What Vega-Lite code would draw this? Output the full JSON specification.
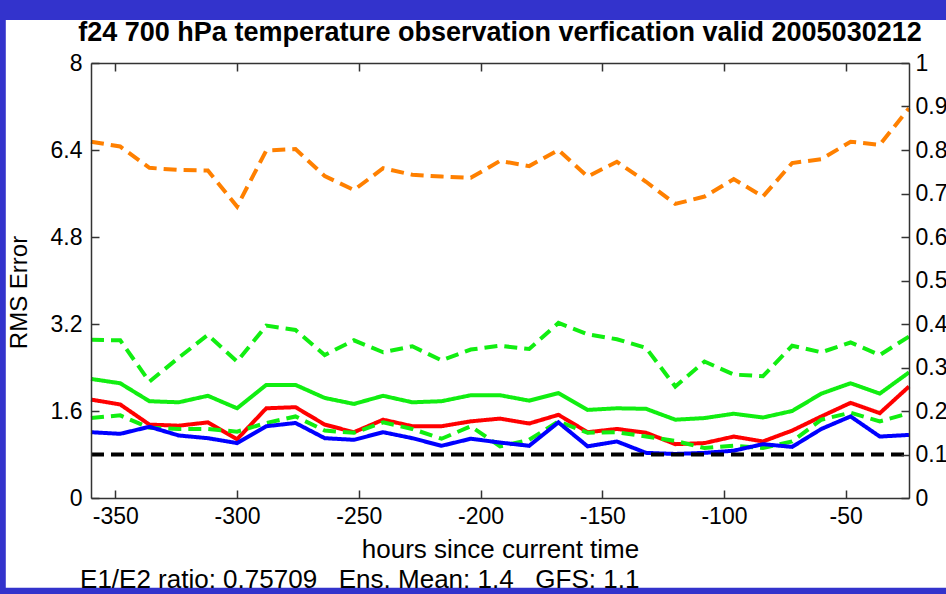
{
  "$schema": "https://vega.github.io/schema/vega-lite/v6.json",
  "width": 818,
  "height": 435,
  "autosize": {"type": "none"},
  "padding": {"left": 91, "top": 63, "right": 37, "bottom": 96},
  "background": "#3333cc",
  "title": {
    "text": "f24 700 hPa temperature observation verfication valid 2005030212",
    "font": "Liberation Sans",
    "fontSize": 27,
    "fontWeight": "bold",
    "color": "black",
    "anchor": "middle",
    "offset": -27
  },
  "config": {
    "view": {"stroke": null},
    "axis": {
      "labelFont": "Liberation Sans",
      "labelFontSize": 23,
      "labelColor": "black",
      "titleFont": "Liberation Sans",
      "titleFontSize": 26,
      "titleFontWeight": "normal",
      "titleColor": "black",
      "domainColor": "#333333",
      "domainWidth": 1.5,
      "tickColor": "#333333",
      "tickWidth": 1.5,
      "tickSize": -8,
      "grid": false,
      "zindex": 1
    }
  },
  "datasets": {
    "bg": [{"x1": -395, "x2": 0, "y1": -1.65, "y2": 8.79}],
    "foot": [{"h": -364.5, "v": -1.5, "label": "E1/E2 ratio: 0.75709\u00a0\u00a0\u00a0Ens. Mean: 1.4\u00a0\u00a0\u00a0GFS: 1.1"}],
    "left": [
      {"h": -360, "series": "gdu", "style": "dashed", "v": 2.91},
      {"h": -348, "series": "gdu", "style": "dashed", "v": 2.90},
      {"h": -336, "series": "gdu", "style": "dashed", "v": 2.14},
      {"h": -324, "series": "gdu", "style": "dashed", "v": 2.58},
      {"h": -312, "series": "gdu", "style": "dashed", "v": 3.00},
      {"h": -300, "series": "gdu", "style": "dashed", "v": 2.51},
      {"h": -288, "series": "gdu", "style": "dashed", "v": 3.17},
      {"h": -276, "series": "gdu", "style": "dashed", "v": 3.09},
      {"h": -264, "series": "gdu", "style": "dashed", "v": 2.63},
      {"h": -252, "series": "gdu", "style": "dashed", "v": 2.90},
      {"h": -240, "series": "gdu", "style": "dashed", "v": 2.68},
      {"h": -228, "series": "gdu", "style": "dashed", "v": 2.79},
      {"h": -216, "series": "gdu", "style": "dashed", "v": 2.53},
      {"h": -204, "series": "gdu", "style": "dashed", "v": 2.73},
      {"h": -192, "series": "gdu", "style": "dashed", "v": 2.80},
      {"h": -180, "series": "gdu", "style": "dashed", "v": 2.74},
      {"h": -168, "series": "gdu", "style": "dashed", "v": 3.22},
      {"h": -156, "series": "gdu", "style": "dashed", "v": 3.01},
      {"h": -144, "series": "gdu", "style": "dashed", "v": 2.92},
      {"h": -132, "series": "gdu", "style": "dashed", "v": 2.76},
      {"h": -120, "series": "gdu", "style": "dashed", "v": 2.05},
      {"h": -108, "series": "gdu", "style": "dashed", "v": 2.51},
      {"h": -96, "series": "gdu", "style": "dashed", "v": 2.27},
      {"h": -84, "series": "gdu", "style": "dashed", "v": 2.24},
      {"h": -72, "series": "gdu", "style": "dashed", "v": 2.80},
      {"h": -60, "series": "gdu", "style": "dashed", "v": 2.68},
      {"h": -48, "series": "gdu", "style": "dashed", "v": 2.86},
      {"h": -36, "series": "gdu", "style": "dashed", "v": 2.63},
      {"h": -24, "series": "gdu", "style": "dashed", "v": 2.97},

      {"h": -360, "series": "gs", "style": "solid", "v": 2.19},
      {"h": -348, "series": "gs", "style": "solid", "v": 2.11},
      {"h": -336, "series": "gs", "style": "solid", "v": 1.78},
      {"h": -324, "series": "gs", "style": "solid", "v": 1.76},
      {"h": -312, "series": "gs", "style": "solid", "v": 1.88},
      {"h": -300, "series": "gs", "style": "solid", "v": 1.65},
      {"h": -288, "series": "gs", "style": "solid", "v": 2.08},
      {"h": -276, "series": "gs", "style": "solid", "v": 2.08},
      {"h": -264, "series": "gs", "style": "solid", "v": 1.84},
      {"h": -252, "series": "gs", "style": "solid", "v": 1.73},
      {"h": -240, "series": "gs", "style": "solid", "v": 1.88},
      {"h": -228, "series": "gs", "style": "solid", "v": 1.76},
      {"h": -216, "series": "gs", "style": "solid", "v": 1.78},
      {"h": -204, "series": "gs", "style": "solid", "v": 1.89},
      {"h": -192, "series": "gs", "style": "solid", "v": 1.89},
      {"h": -180, "series": "gs", "style": "solid", "v": 1.79},
      {"h": -168, "series": "gs", "style": "solid", "v": 1.93},
      {"h": -156, "series": "gs", "style": "solid", "v": 1.62},
      {"h": -144, "series": "gs", "style": "solid", "v": 1.65},
      {"h": -132, "series": "gs", "style": "solid", "v": 1.64},
      {"h": -120, "series": "gs", "style": "solid", "v": 1.44},
      {"h": -108, "series": "gs", "style": "solid", "v": 1.47},
      {"h": -96, "series": "gs", "style": "solid", "v": 1.55},
      {"h": -84, "series": "gs", "style": "solid", "v": 1.48},
      {"h": -72, "series": "gs", "style": "solid", "v": 1.60},
      {"h": -60, "series": "gs", "style": "solid", "v": 1.92},
      {"h": -48, "series": "gs", "style": "solid", "v": 2.11},
      {"h": -36, "series": "gs", "style": "solid", "v": 1.92},
      {"h": -24, "series": "gs", "style": "solid", "v": 2.31},

      {"h": -360, "series": "red", "style": "solid", "v": 1.81},
      {"h": -348, "series": "red", "style": "solid", "v": 1.72},
      {"h": -336, "series": "red", "style": "solid", "v": 1.35},
      {"h": -324, "series": "red", "style": "solid", "v": 1.33},
      {"h": -312, "series": "red", "style": "solid", "v": 1.39},
      {"h": -300, "series": "red", "style": "solid", "v": 1.08},
      {"h": -288, "series": "red", "style": "solid", "v": 1.65},
      {"h": -276, "series": "red", "style": "solid", "v": 1.67},
      {"h": -264, "series": "red", "style": "solid", "v": 1.35},
      {"h": -252, "series": "red", "style": "solid", "v": 1.21},
      {"h": -240, "series": "red", "style": "solid", "v": 1.44},
      {"h": -228, "series": "red", "style": "solid", "v": 1.32},
      {"h": -216, "series": "red", "style": "solid", "v": 1.32},
      {"h": -204, "series": "red", "style": "solid", "v": 1.41},
      {"h": -192, "series": "red", "style": "solid", "v": 1.46},
      {"h": -180, "series": "red", "style": "solid", "v": 1.37},
      {"h": -168, "series": "red", "style": "solid", "v": 1.53},
      {"h": -156, "series": "red", "style": "solid", "v": 1.21},
      {"h": -144, "series": "red", "style": "solid", "v": 1.27},
      {"h": -132, "series": "red", "style": "solid", "v": 1.20},
      {"h": -120, "series": "red", "style": "solid", "v": 0.99},
      {"h": -108, "series": "red", "style": "solid", "v": 1.01},
      {"h": -96, "series": "red", "style": "solid", "v": 1.13},
      {"h": -84, "series": "red", "style": "solid", "v": 1.04},
      {"h": -72, "series": "red", "style": "solid", "v": 1.24},
      {"h": -60, "series": "red", "style": "solid", "v": 1.50},
      {"h": -48, "series": "red", "style": "solid", "v": 1.75},
      {"h": -36, "series": "red", "style": "solid", "v": 1.56},
      {"h": -24, "series": "red", "style": "solid", "v": 2.05},

      {"h": -360, "series": "gdl", "style": "dashed", "v": 1.47},
      {"h": -348, "series": "gdl", "style": "dashed", "v": 1.52},
      {"h": -336, "series": "gdl", "style": "dashed", "v": 1.29},
      {"h": -324, "series": "gdl", "style": "dashed", "v": 1.27},
      {"h": -312, "series": "gdl", "style": "dashed", "v": 1.27},
      {"h": -300, "series": "gdl", "style": "dashed", "v": 1.22},
      {"h": -288, "series": "gdl", "style": "dashed", "v": 1.38},
      {"h": -276, "series": "gdl", "style": "dashed", "v": 1.50},
      {"h": -264, "series": "gdl", "style": "dashed", "v": 1.24},
      {"h": -252, "series": "gdl", "style": "dashed", "v": 1.20},
      {"h": -240, "series": "gdl", "style": "dashed", "v": 1.39},
      {"h": -228, "series": "gdl", "style": "dashed", "v": 1.27},
      {"h": -216, "series": "gdl", "style": "dashed", "v": 1.09},
      {"h": -204, "series": "gdl", "style": "dashed", "v": 1.32},
      {"h": -192, "series": "gdl", "style": "dashed", "v": 0.95},
      {"h": -180, "series": "gdl", "style": "dashed", "v": 1.07},
      {"h": -168, "series": "gdl", "style": "dashed", "v": 1.41},
      {"h": -156, "series": "gdl", "style": "dashed", "v": 1.20},
      {"h": -144, "series": "gdl", "style": "dashed", "v": 1.21},
      {"h": -132, "series": "gdl", "style": "dashed", "v": 1.13},
      {"h": -120, "series": "gdl", "style": "dashed", "v": 1.05},
      {"h": -108, "series": "gdl", "style": "dashed", "v": 0.92},
      {"h": -96, "series": "gdl", "style": "dashed", "v": 0.96},
      {"h": -84, "series": "gdl", "style": "dashed", "v": 0.92},
      {"h": -72, "series": "gdl", "style": "dashed", "v": 1.04},
      {"h": -60, "series": "gdl", "style": "dashed", "v": 1.44},
      {"h": -48, "series": "gdl", "style": "dashed", "v": 1.57},
      {"h": -36, "series": "gdl", "style": "dashed", "v": 1.41},
      {"h": -24, "series": "gdl", "style": "dashed", "v": 1.56},

      {"h": -360, "series": "blue", "style": "solid", "v": 1.21},
      {"h": -348, "series": "blue", "style": "solid", "v": 1.18},
      {"h": -336, "series": "blue", "style": "solid", "v": 1.31},
      {"h": -324, "series": "blue", "style": "solid", "v": 1.15},
      {"h": -312, "series": "blue", "style": "solid", "v": 1.10},
      {"h": -300, "series": "blue", "style": "solid", "v": 1.01},
      {"h": -288, "series": "blue", "style": "solid", "v": 1.32},
      {"h": -276, "series": "blue", "style": "solid", "v": 1.38},
      {"h": -264, "series": "blue", "style": "solid", "v": 1.10},
      {"h": -252, "series": "blue", "style": "solid", "v": 1.07},
      {"h": -240, "series": "blue", "style": "solid", "v": 1.21},
      {"h": -228, "series": "blue", "style": "solid", "v": 1.10},
      {"h": -216, "series": "blue", "style": "solid", "v": 0.96},
      {"h": -204, "series": "blue", "style": "solid", "v": 1.09},
      {"h": -192, "series": "blue", "style": "solid", "v": 1.02},
      {"h": -180, "series": "blue", "style": "solid", "v": 0.96},
      {"h": -168, "series": "blue", "style": "solid", "v": 1.39},
      {"h": -156, "series": "blue", "style": "solid", "v": 0.95},
      {"h": -144, "series": "blue", "style": "solid", "v": 1.04},
      {"h": -132, "series": "blue", "style": "solid", "v": 0.83},
      {"h": -120, "series": "blue", "style": "solid", "v": 0.81},
      {"h": -108, "series": "blue", "style": "solid", "v": 0.83},
      {"h": -96, "series": "blue", "style": "solid", "v": 0.87},
      {"h": -84, "series": "blue", "style": "solid", "v": 0.99},
      {"h": -72, "series": "blue", "style": "solid", "v": 0.94},
      {"h": -60, "series": "blue", "style": "solid", "v": 1.27},
      {"h": -48, "series": "blue", "style": "solid", "v": 1.50},
      {"h": -36, "series": "blue", "style": "solid", "v": 1.13},
      {"h": -24, "series": "blue", "style": "solid", "v": 1.16}
    ],
    "right": [
      {"h": -360, "series": "black", "style": "dashed", "v": 0.1},
      {"h": -24, "series": "black", "style": "dashed", "v": 0.1},

      {"h": -360, "series": "orange", "style": "dashed", "v": 0.819},
      {"h": -348, "series": "orange", "style": "dashed", "v": 0.808},
      {"h": -336, "series": "orange", "style": "dashed", "v": 0.759},
      {"h": -324, "series": "orange", "style": "dashed", "v": 0.754},
      {"h": -312, "series": "orange", "style": "dashed", "v": 0.753},
      {"h": -300, "series": "orange", "style": "dashed", "v": 0.670},
      {"h": -288, "series": "orange", "style": "dashed", "v": 0.799},
      {"h": -276, "series": "orange", "style": "dashed", "v": 0.802},
      {"h": -264, "series": "orange", "style": "dashed", "v": 0.740},
      {"h": -252, "series": "orange", "style": "dashed", "v": 0.708},
      {"h": -240, "series": "orange", "style": "dashed", "v": 0.758},
      {"h": -228, "series": "orange", "style": "dashed", "v": 0.743},
      {"h": -216, "series": "orange", "style": "dashed", "v": 0.739},
      {"h": -204, "series": "orange", "style": "dashed", "v": 0.736},
      {"h": -192, "series": "orange", "style": "dashed", "v": 0.775},
      {"h": -180, "series": "orange", "style": "dashed", "v": 0.763},
      {"h": -168, "series": "orange", "style": "dashed", "v": 0.800},
      {"h": -156, "series": "orange", "style": "dashed", "v": 0.739},
      {"h": -144, "series": "orange", "style": "dashed", "v": 0.773},
      {"h": -132, "series": "orange", "style": "dashed", "v": 0.727},
      {"h": -120, "series": "orange", "style": "dashed", "v": 0.676},
      {"h": -108, "series": "orange", "style": "dashed", "v": 0.693},
      {"h": -96, "series": "orange", "style": "dashed", "v": 0.733},
      {"h": -84, "series": "orange", "style": "dashed", "v": 0.693},
      {"h": -72, "series": "orange", "style": "dashed", "v": 0.770},
      {"h": -60, "series": "orange", "style": "dashed", "v": 0.779},
      {"h": -48, "series": "orange", "style": "dashed", "v": 0.819},
      {"h": -36, "series": "orange", "style": "dashed", "v": 0.812},
      {"h": -24, "series": "orange", "style": "dashed", "v": 0.896}
    ]
  },
  "layer": [
    {
      "data": {"name": "bg"},
      "mark": {"type": "rect", "color": "white"},
      "encoding": {
        "x": {"field": "x1", "type": "quantitative", "scale": {"domain": [-360, -24], "nice": false, "zero": false},
              "axis": {"orient": "top", "labels": false, "title": null, "zindex": 1, "values": [-350, -300, -250, -200, -150, -100, -50]}},
        "x2": {"field": "x2"},
        "y": {"field": "y1", "type": "quantitative", "scale": {"domain": [0, 8], "nice": false, "zero": false}, "axis": null},
        "y2": {"field": "y2"}
      }
    },
    {
      "data": {"name": "foot"},
      "mark": {"type": "text", "align": "left", "baseline": "middle", "font": "Liberation Sans", "fontSize": 26, "color": "black"},
      "encoding": {
        "x": {"field": "h", "type": "quantitative", "scale": {"domain": [-360, -24], "nice": false, "zero": false}, "axis": null},
        "y": {"field": "v", "type": "quantitative", "scale": {"domain": [0, 8], "nice": false, "zero": false}, "axis": null},
        "text": {"field": "label"}
      }
    },
    {
      "data": {"name": "left"},
      "mark": {"type": "line", "strokeWidth": 4},
      "encoding": {
        "x": {"field": "h", "type": "quantitative", "scale": {"domain": [-360, -24], "nice": false, "zero": false},
              "axis": {"orient": "bottom", "title": "hours since current time", "zindex": 1, "values": [-350, -300, -250, -200, -150, -100, -50],
                       "labelExpr": "toString(datum.value)", "labelPadding": 15, "titlePadding": 8}},
        "y": {"field": "v", "type": "quantitative", "scale": {"domain": [0, 8], "nice": false, "zero": false},
              "axis": {"orient": "left", "title": "RMS Error", "zindex": 1, "titleFontSize": 24, "titleY": 229, "values": [0, 1.6, 3.2, 4.8, 6.4, 8],
                       "labelExpr": "toString(datum.value)", "labelPadding": 17, "titlePadding": 19}},
        "color": {"field": "series", "type": "nominal", "legend": null,
                  "scale": {"domain": ["orange", "black", "gdu", "gs", "red", "gdl", "blue"],
                            "range": ["#ff8000", "#000000", "#11ee11", "#11ee11", "#ff0000", "#11ee11", "#0000ff"]}},
        "strokeDash": {"field": "style", "type": "nominal", "legend": null,
                       "scale": {"domain": ["solid", "dashed"], "range": [[1, 0], [13, 7]]}}
      }
    },
    {
      "data": {"name": "right"},
      "mark": {"type": "line", "strokeWidth": 4},
      "encoding": {
        "x": {"field": "h", "type": "quantitative", "scale": {"domain": [-360, -24], "nice": false, "zero": false}, "axis": null},
        "y": {"field": "v", "type": "quantitative", "scale": {"domain": [0, 1], "nice": false, "zero": false},
              "axis": {"orient": "right", "title": null, "zindex": 1, "values": [0, 0.1, 0.2, 0.3, 0.4, 0.5, 0.6, 0.7, 0.8, 0.9, 1],
                       "labelExpr": "toString(datum.value)", "labelPadding": 14}},
        "color": {"field": "series", "type": "nominal", "legend": null,
                  "scale": {"domain": ["orange", "black", "gdu", "gs", "red", "gdl", "blue"],
                            "range": ["#ff8000", "#000000", "#11ee11", "#11ee11", "#ff0000", "#11ee11", "#0000ff"]}},
        "strokeDash": {"field": "style", "type": "nominal", "legend": null,
                       "scale": {"domain": ["solid", "dashed"], "range": [[1, 0], [13, 7]]}}
      }
    }
  ],
  "resolve": {"scale": {"y": "independent"}}
}
